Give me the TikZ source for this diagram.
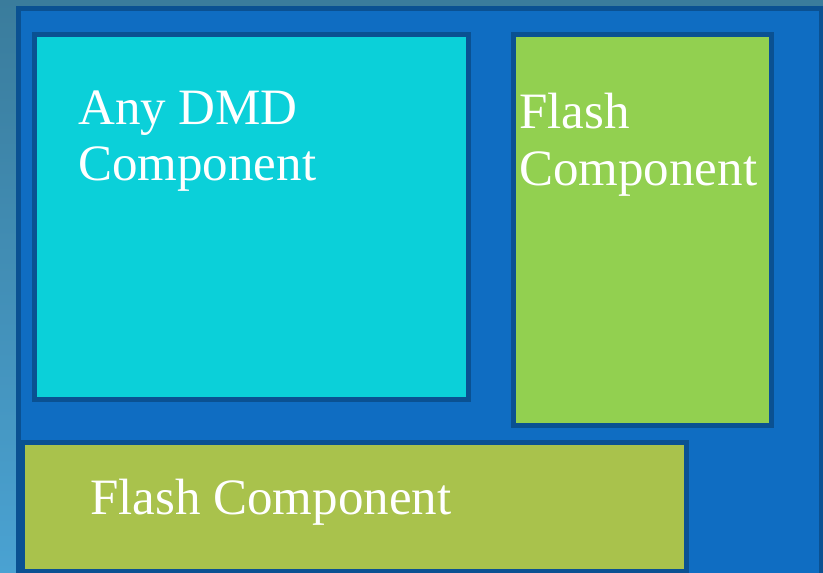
\documentclass[tikz,border=0pt]{standalone}
\usepackage{fontspec}
\setmainfont{Liberation Serif}
\definecolor{bgtop}{HTML}{3A7C9C}
\definecolor{bgbot}{HTML}{4AA2D2}
\definecolor{mainblue}{HTML}{0F6DC2}
\definecolor{edgeblue}{HTML}{0A5192}
\definecolor{cyanfill}{HTML}{0BD0D9}
\definecolor{greenfill}{HTML}{92D050}
\definecolor{olivefill}{HTML}{A9C24C}
\tikzset{
  panel/.style={draw=edgeblue, line width=5pt},
  lbl/.style={anchor=base west, inner sep=0pt, text=white, font=\fontsize{51}{56}\selectfont, align=left}
}
\begin{document}
\begin{tikzpicture}[x=1pt,y=-1pt]
\useasboundingbox (0,0) rectangle (823,573);
\shade[top color=bgtop, bottom color=bgbot] (0,0) rectangle (823,573);
\path[panel, fill=mainblue] (18.5,8.5) rectangle (821.5,580);
\node[panel, fill=cyanfill, minimum width=434pt, minimum height=365pt, anchor=north west, inner sep=0pt] (dmd) at (32,32) {};
\node[panel, fill=greenfill, minimum width=258pt, minimum height=391pt, anchor=north west, inner sep=0pt] (flashr) at (511,32) {};
\node[panel, fill=olivefill, minimum width=664pt, minimum height=129pt, anchor=north west, inner sep=0pt] (flashb) at (20,440) {};
\node[lbl] (t1) at (78,124) {Any DMD};
\node[lbl] (t2) at (78,180) {Component};
\node[lbl] (t3) at (519,128) {Flash};
\node[lbl] (t4) at (519,185) {Component};
\node[lbl] (t5) at (90,514) {Flash Component};
\end{tikzpicture}
\end{document}
